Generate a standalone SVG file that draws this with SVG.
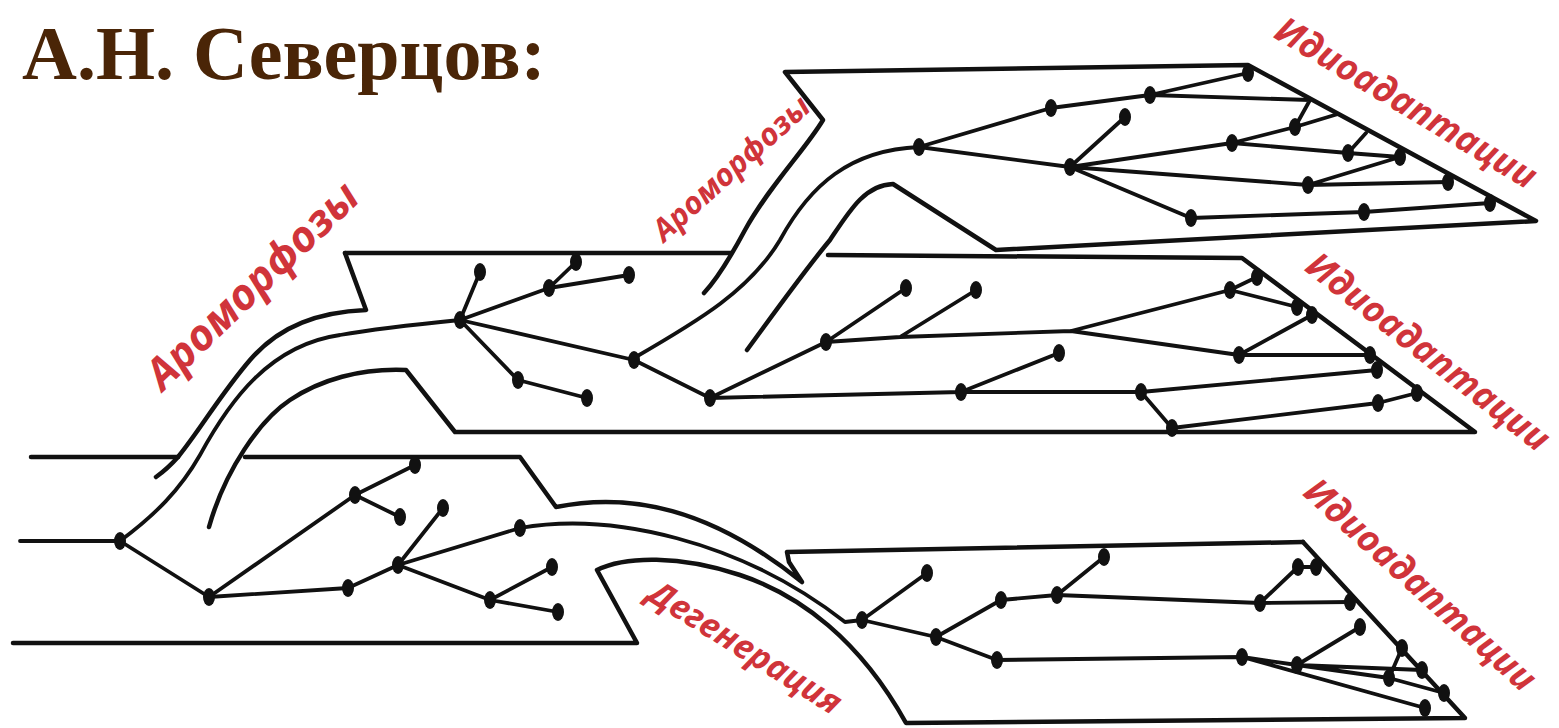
<svg xmlns="http://www.w3.org/2000/svg" width="1559" height="728" viewBox="0 0 1559 728">
<style>
.o{fill:none;stroke:#111;stroke-width:4.5;stroke-linejoin:round;stroke-linecap:round}
.l{fill:none;stroke:#111;stroke-width:3.8;stroke-linecap:round;stroke-linejoin:round}
.t{font-family:"Liberation Serif",serif;font-weight:bold;fill:#4a2507}
.r{font-family:"Open Sans","Noto Sans",sans-serif;font-weight:bold;font-style:italic;fill:#d0343a;text-anchor:middle}
</style>
<defs>
<ellipse id="dot" cx="0" cy="0" rx="6" ry="9" fill="#111"/>
</defs>
<rect width="1559" height="728" fill="#fff"/>
<g id="title"><text class="t" x="22" y="79" font-size="76">А.Н. Северцов:</text></g>

<g id="band-bottom-left">
<path class="o" d="M31,457 L178,457"/>
<path class="o" d="M245,457 L520,457 L556,507 C630,492 710,508 802,582 L789,562 L787,552 L1303,542"/>
<path class="o" d="M13,643 L637,643 L597,570 C625,556 680,555 740,575 C800,595 860,640 906,723 L1465,718 L1303,542"/>
</g>
<g id="band-middle">
<path class="o" d="M345,253 L366,310 C320,312 280,325 250,360 C220,395 200,430 178,457 C170,466 163,472 156,477"/>
<path class="o" d="M345,253 L731,253"/>
<path class="o" d="M209,527 C225,470 260,420 290,400 C320,380 360,368 406,370 L455,432 L1475,432 L1242,258 L828,255"/>
</g>
<g id="band-top">
<path class="o" d="M704,293 C718,278 730,258 745,230 C770,185 805,150 823,120 L785,72 L1248,65 L1536,221 L996,250 L893,184 C865,185 850,210 830,240 C805,270 780,305 747,350"/>
</g>

<g id="connectors">
<path class="l" d="M20,541 L120,541"/>
<path class="l" d="M120,541 C155,515 180,490 200,455 C230,400 270,345 340,335 C380,328 420,324 460,320"/>
<path class="l" d="M120,541 L209,597 L355,495 L415,465 M355,495 L400,517"/>
<path class="l" d="M209,597 L348,588 L398,565 L443,508 M398,565 L520,528 M398,565 L490,600 L552,567 M490,600 L558,612"/>
<path class="l" d="M520,528 C610,512 740,540 845,622 L862,620"/>
<path class="l" d="M862,620 L927,573 M862,620 L936,637 L1001,600 L1057,595 L1104,557 M1057,595 L1260,603 L1350,602 M1260,603 L1298,567 L1316,567"/>
<path class="l" d="M936,637 L997,660 L1242,657 L1297,665 L1422,670 M1297,665 L1360,627 M1297,665 L1389,678 L1444,693 M1389,678 L1402,648 M1242,657 L1425,708"/>
<path class="l" d="M460,320 L480,272 M460,320 L549,288 L576,262 M549,288 L629,275 M460,320 L518,380 L587,398 M460,320 L634,360 L710,398"/>
<path class="l" d="M634,358 C700,320 750,290 780,240 C810,185 850,150 919,147"/>
<path class="l" d="M710,398 L826,342 L906,288 M826,342 L900,337 L976,290 M900,337 L1071,331 L1230,290 L1257,277 M1230,290 L1297,307 M1071,331 L1239,355 L1370,355 M1239,355 L1312,315 M710,398 L961,392 L1141,392 L1377,370 M961,392 L1059,353 M1141,392 L1172,428 L1378,403 L1417,393"/>
<path class="l" d="M919,147 L1051,108 L1150,95 L1248,73 M1150,95 L1310,100 L1295,127 M919,147 L1070,167 L1125,117 M1070,167 L1232,143 L1295,127 L1338,114 M1232,143 L1348,153 L1366,133 M1348,153 L1400,157 M1070,167 L1308,185 L1448,182 M1308,185 L1400,157 M1070,167 L1191,218 L1364,212 L1490,203"/>
</g>

<g id="nodes">
<use href="#dot" x="120" y="541"/><use href="#dot" x="209" y="597"/><use href="#dot" x="355" y="495"/><use href="#dot" x="415" y="465"/><use href="#dot" x="400" y="517"/><use href="#dot" x="348" y="588"/><use href="#dot" x="398" y="565"/><use href="#dot" x="443" y="508"/><use href="#dot" x="520" y="528"/><use href="#dot" x="490" y="600"/><use href="#dot" x="552" y="567"/><use href="#dot" x="558" y="612"/>
<use href="#dot" x="862" y="620"/><use href="#dot" x="927" y="573"/><use href="#dot" x="936" y="637"/><use href="#dot" x="1001" y="600"/><use href="#dot" x="1057" y="595"/><use href="#dot" x="1104" y="557"/><use href="#dot" x="1260" y="603"/><use href="#dot" x="1298" y="567"/><use href="#dot" x="1316" y="567"/><use href="#dot" x="1350" y="602"/><use href="#dot" x="997" y="660"/><use href="#dot" x="1242" y="657"/><use href="#dot" x="1297" y="665"/><use href="#dot" x="1360" y="627"/><use href="#dot" x="1402" y="648"/><use href="#dot" x="1422" y="670"/><use href="#dot" x="1389" y="678"/><use href="#dot" x="1444" y="693"/><use href="#dot" x="1425" y="708"/>
<use href="#dot" x="460" y="320"/><use href="#dot" x="480" y="272"/><use href="#dot" x="549" y="288"/><use href="#dot" x="576" y="262"/><use href="#dot" x="629" y="275"/><use href="#dot" x="518" y="380"/><use href="#dot" x="587" y="398"/><use href="#dot" x="634" y="360"/><use href="#dot" x="710" y="398"/><use href="#dot" x="826" y="342"/><use href="#dot" x="906" y="288"/><use href="#dot" x="976" y="290"/><use href="#dot" x="1059" y="353"/><use href="#dot" x="961" y="392"/><use href="#dot" x="1141" y="392"/><use href="#dot" x="1172" y="428"/><use href="#dot" x="1230" y="290"/><use href="#dot" x="1257" y="277"/><use href="#dot" x="1297" y="307"/><use href="#dot" x="1312" y="315"/><use href="#dot" x="1239" y="355"/><use href="#dot" x="1370" y="355"/><use href="#dot" x="1377" y="370"/><use href="#dot" x="1378" y="403"/><use href="#dot" x="1417" y="393"/>
<use href="#dot" x="919" y="147"/><use href="#dot" x="1051" y="108"/><use href="#dot" x="1150" y="95"/><use href="#dot" x="1248" y="73"/><use href="#dot" x="1125" y="117"/><use href="#dot" x="1070" y="167"/><use href="#dot" x="1232" y="143"/><use href="#dot" x="1295" y="127"/><use href="#dot" x="1348" y="153"/><use href="#dot" x="1400" y="157"/><use href="#dot" x="1308" y="185"/><use href="#dot" x="1448" y="182"/><use href="#dot" x="1191" y="218"/><use href="#dot" x="1364" y="212"/><use href="#dot" x="1490" y="203"/>
</g>

<g id="labels">
<text class="r" font-size="43" transform="translate(252,285) rotate(-44)" y="15">Ароморфозы</text>
<text class="r" font-size="31" transform="translate(731,168) rotate(-42)" y="11">Ароморфозы</text>
<text class="r" font-size="36" transform="translate(1406,103) rotate(31)" y="12">Идиоадаптации</text>
<text class="r" font-size="36" transform="translate(1428,352) rotate(38)" y="12">Идиоадаптации</text>
<text class="r" font-size="36" transform="translate(1420,585) rotate(42)" y="12">Идиоадаптации</text>
<text class="r" font-size="34" transform="translate(745,648) rotate(32)" y="11">Дегенерация</text>
</g>
</svg>
